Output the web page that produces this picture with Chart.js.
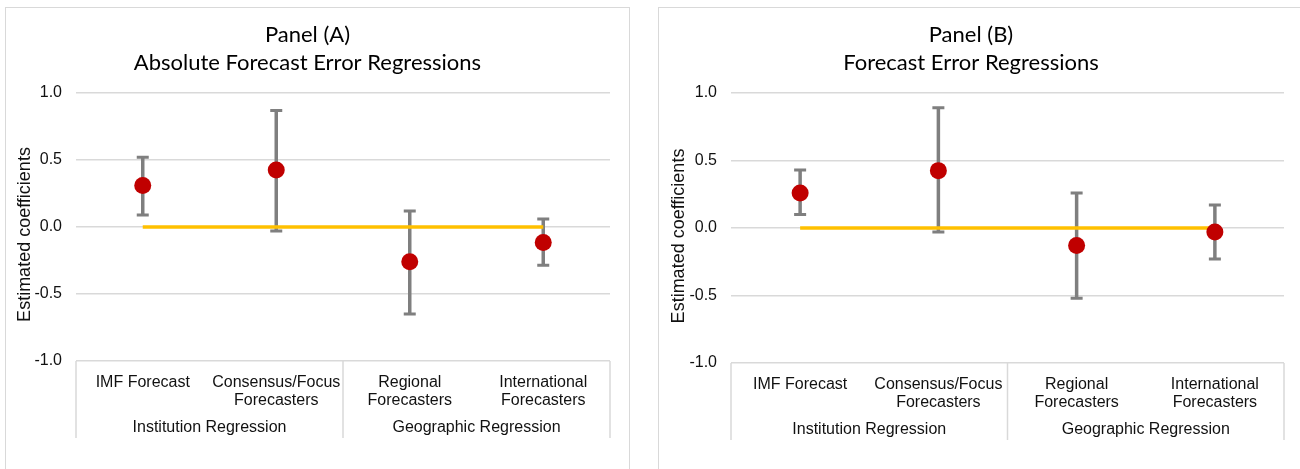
<!DOCTYPE html>
<html>
<head>
<meta charset="utf-8">
<script src="https://cdn.jsdelivr.net/npm/chart.js@4.4.1/dist/chart.umd.min.js"></script>
<style>
  html, body { margin: 0; padding: 0; background: #fff; width: 1300px; height: 469px; overflow: hidden; position: relative; }
  .frame { position: absolute; border: 1.5px solid #d9d9d9; box-sizing: border-box; }
  canvas { position: absolute; }
</style>
</head>
<body>
<div class="frame" style="left:5px;top:7px;width:625px;height:480px"></div>
<div class="frame" style="left:658px;top:7px;width:700px;height:480px"></div>
<canvas id="panelA" width="624" height="461" style="left:6px;top:8px"></canvas>
<canvas id="panelB" width="641" height="461" style="left:659px;top:8px"></canvas>
<script>
// Categories (multi-line labels) and the regression groups they belong to
const categories = [['IMF Forecast'], ['Consensus/Focus', 'Forecasters'], ['Regional', 'Forecasters'], ['International', 'Forecasters']];
const groups = ['Institution Regression', 'Geographic Regression'];
const groupSpans = [2, 2];
const yTicks = [-1, -0.5, 0, 0.5, 1];
const yTitle = 'Estimated coefficients';

// Panel (A): absolute forecast error regressions
const titleA = ['Panel (A)', 'Absolute Forecast Error Regressions'];
const coefA  = [0.31, 0.425, -0.26, -0.115];
const lowerA = [0.09, -0.03, -0.65, -0.285];
const upperA = [0.52, 0.87, 0.12, 0.06];

// Panel (B): forecast error regressions
const titleB = ['Panel (B)', 'Forecast Error Regressions'];
const coefB  = [0.26, 0.425, -0.13, -0.03];
const lowerB = [0.10, -0.03, -0.52, -0.23];
const upperB = [0.43, 0.89, 0.26, 0.17];

// Reference line at zero
const zeroLine = [0, 0, 0, 0];

const AXIS_FONT = 'Liberation Sans, Arial, sans-serif';
const TITLE_FONT = 'Lato, Calibri, sans-serif';

// Error bars, titles, rotated axis title, group labels and group separators
const panelDecor = {
  id: 'panelDecor',
  beforeDatasetDraw(chart, args, opts) {
    if (args.index !== 1) return;
    const { ctx, scales: { x, y } } = chart;
    ctx.save();
    ctx.strokeStyle = '#7f7f7f';
    opts.lower.forEach((lo, i) => {
      const px = x.getPixelForValue(i);
      const yl = y.getPixelForValue(lo);
      const yu = y.getPixelForValue(opts.upper[i]);
      ctx.lineWidth = 3.5;
      ctx.beginPath(); ctx.moveTo(px, yl); ctx.lineTo(px, yu); ctx.stroke();
      ctx.lineWidth = 3;
      ctx.beginPath();
      ctx.moveTo(px - 6, yl); ctx.lineTo(px + 6, yl);
      ctx.moveTo(px - 6, yu); ctx.lineTo(px + 6, yu);
      ctx.stroke();
    });
    ctx.restore();
  },
  afterDraw(chart, args, opts) {
    const { ctx, scales: { x }, chartArea } = chart;
    ctx.save();
    // Chart title
    ctx.fillStyle = '#000';
    ctx.textAlign = 'center';
    ctx.textBaseline = 'middle';
    ctx.font = '22px ' + TITLE_FONT;
    opts.title.forEach((line, i) => ctx.fillText(line, opts.titleX, opts.titleY + i * 28));
    // Vertical axis title
    ctx.save();
    ctx.translate(opts.yTitleX, opts.yTitleY);
    ctx.rotate(-Math.PI / 2);
    ctx.font = '18px ' + AXIS_FONT;
    ctx.fillStyle = '#111';
    ctx.fillText(yTitle, 0, 0);
    ctx.restore();
    // Group separators and group labels
    const n = categories.length;
    const step = (x.getPixelForValue(n - 1) - x.getPixelForValue(0)) / (n - 1);
    const bounds = [x.getPixelForValue(0) - step / 2];
    let idx = 0;
    groupSpans.forEach(s => { idx += s; bounds.push(x.getPixelForValue(idx - 1) + step / 2); });
    ctx.strokeStyle = '#d9d9d9';
    ctx.lineWidth = 1.5;
    ctx.beginPath();
    bounds.forEach(bx => { ctx.moveTo(bx, chartArea.bottom); ctx.lineTo(bx, chartArea.bottom + opts.sepLen); });
    ctx.stroke();
    ctx.font = '16px ' + AXIS_FONT;
    ctx.fillStyle = '#111';
    groups.forEach((g, i) => ctx.fillText(g, (bounds[i] + bounds[i + 1]) / 2, chartArea.bottom + opts.groupOffset));
    ctx.restore();
  }
};

function makePanel(id, cfg) {
  return new Chart(document.getElementById(id), {
    type: 'line',
    data: {
      labels: categories,
      datasets: [
        { data: cfg.coef, showLine: false, pointRadius: 8.5, pointHoverRadius: 8.5,
          pointBackgroundColor: '#c00000', pointBorderWidth: 0, borderColor: '#c00000', order: 1 },
        { data: zeroLine, borderColor: '#ffc000', borderWidth: 3.5, pointRadius: 0, order: 2 }
      ]
    },
    options: {
      responsive: false,
      animation: false,
      events: [],
      layout: { padding: { left: 0, top: cfg.padTop, right: cfg.padRight, bottom: 0 } },
      plugins: {
        legend: { display: false },
        tooltip: { enabled: false },
        title: { display: false },
        panelDecor: {
          lower: cfg.lower, upper: cfg.upper, title: cfg.title,
          titleX: cfg.titleX, titleY: 27,
          yTitleX: cfg.yTitleX, yTitleY: cfg.yTitleY,
          sepLen: cfg.sepLen, groupOffset: cfg.groupOffset
        }
      },
      scales: {
        x: {
          type: 'category',
          offset: true,
          grid: { display: false },
          border: { display: false },
          afterFit(s) { s.height = cfg.xHeight; },
          ticks: {
            autoSkip: false, maxRotation: 0, minRotation: 0, padding: 4,
            color: '#111', font: { family: AXIS_FONT, size: 16, lineHeight: 1.15 }
          }
        },
        y: {
          min: -1, max: 1,
          afterBuildTicks(s) { s.ticks = yTicks.map(v => ({ value: v })); },
          afterFit(s) { s.width = cfg.yWidth; },
          grid: { color: '#d9d9d9', lineWidth: 1.5, drawTicks: false },
          border: { display: false },
          ticks: {
            padding: 14, color: '#111',
            font: { family: AXIS_FONT, size: 16 },
            callback: v => Number(v).toFixed(1)
          }
        }
      }
    },
    plugins: [panelDecor]
  });
}

makePanel('panelA', {
  coef: coefA, lower: lowerA, upper: upperA, title: titleA,
  padTop: 85, padRight: 20, yWidth: 70, xHeight: 108,
  titleX: 301.5, yTitleX: 19, yTitleY: 226.5, sepLen: 77, groupOffset: 67
});
makePanel('panelB', {
  coef: coefB, lower: lowerB, upper: upperB, title: titleB,
  padTop: 85, padRight: 16, yWidth: 72, xHeight: 106,
  titleX: 312, yTitleX: 20, yTitleY: 228, sepLen: 77, groupOffset: 67
});
</script>
</body>
</html>
